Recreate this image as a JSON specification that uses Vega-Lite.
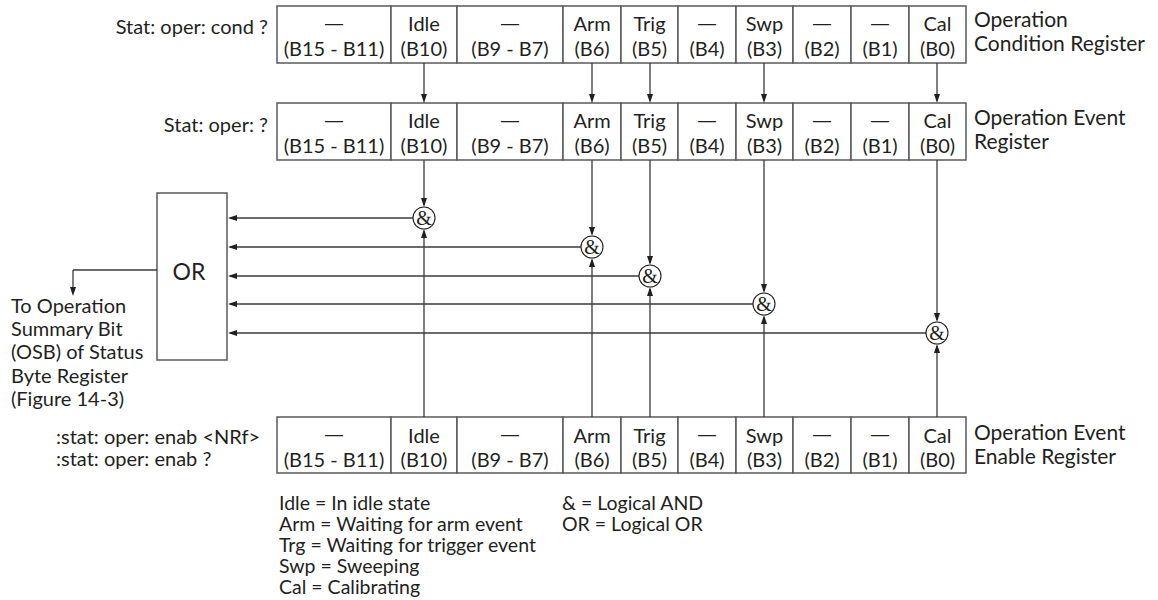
{
  "$schema": "https://vega.github.io/schema/vega-lite/v6.json",
  "width": 1158,
  "height": 600,
  "padding": 0,
  "autosize": {"type": "fit", "contains": "padding"},
  "background": "white",
  "config": {
    "view": {"stroke": null},
    "text": {"font": "Lato", "fontSize": 20, "color": "#231f20", "baseline": "middle"}
  },
  "datasets": {
    "boxes": [
      {"x1": 277, "x2": 391, "y1": 6, "y2": 63},
      {"x1": 391, "x2": 457, "y1": 6, "y2": 63},
      {"x1": 457, "x2": 563, "y1": 6, "y2": 63},
      {"x1": 563, "x2": 621, "y1": 6, "y2": 63},
      {"x1": 621, "x2": 678, "y1": 6, "y2": 63},
      {"x1": 678, "x2": 736, "y1": 6, "y2": 63},
      {"x1": 736, "x2": 793, "y1": 6, "y2": 63},
      {"x1": 793, "x2": 851, "y1": 6, "y2": 63},
      {"x1": 851, "x2": 909, "y1": 6, "y2": 63},
      {"x1": 909, "x2": 966, "y1": 6, "y2": 63},
      {"x1": 277, "x2": 391, "y1": 103, "y2": 160},
      {"x1": 391, "x2": 457, "y1": 103, "y2": 160},
      {"x1": 457, "x2": 563, "y1": 103, "y2": 160},
      {"x1": 563, "x2": 621, "y1": 103, "y2": 160},
      {"x1": 621, "x2": 678, "y1": 103, "y2": 160},
      {"x1": 678, "x2": 736, "y1": 103, "y2": 160},
      {"x1": 736, "x2": 793, "y1": 103, "y2": 160},
      {"x1": 793, "x2": 851, "y1": 103, "y2": 160},
      {"x1": 851, "x2": 909, "y1": 103, "y2": 160},
      {"x1": 909, "x2": 966, "y1": 103, "y2": 160},
      {"x1": 277, "x2": 391, "y1": 417, "y2": 473},
      {"x1": 391, "x2": 457, "y1": 417, "y2": 473},
      {"x1": 457, "x2": 563, "y1": 417, "y2": 473},
      {"x1": 563, "x2": 621, "y1": 417, "y2": 473},
      {"x1": 621, "x2": 678, "y1": 417, "y2": 473},
      {"x1": 678, "x2": 736, "y1": 417, "y2": 473},
      {"x1": 736, "x2": 793, "y1": 417, "y2": 473},
      {"x1": 793, "x2": 851, "y1": 417, "y2": 473},
      {"x1": 851, "x2": 909, "y1": 417, "y2": 473},
      {"x1": 909, "x2": 966, "y1": 417, "y2": 473},
      {"x1": 157, "x2": 227, "y1": 193, "y2": 360}
    ],
    "lines": [
      {"x1": 424, "y1": 63, "x2": 424, "y2": 100},
      {"x1": 592, "y1": 63, "x2": 592, "y2": 100},
      {"x1": 650, "y1": 63, "x2": 650, "y2": 100},
      {"x1": 764, "y1": 63, "x2": 764, "y2": 100},
      {"x1": 937, "y1": 63, "x2": 937, "y2": 100},
      {"x1": 424, "y1": 160, "x2": 424, "y2": 205},
      {"x1": 592, "y1": 160, "x2": 592, "y2": 234},
      {"x1": 650, "y1": 160, "x2": 650, "y2": 263},
      {"x1": 764, "y1": 160, "x2": 764, "y2": 291},
      {"x1": 937, "y1": 160, "x2": 937, "y2": 320},
      {"x1": 424, "y1": 417, "x2": 424, "y2": 231},
      {"x1": 592, "y1": 417, "x2": 592, "y2": 260},
      {"x1": 650, "y1": 417, "x2": 650, "y2": 289},
      {"x1": 764, "y1": 417, "x2": 764, "y2": 317},
      {"x1": 937, "y1": 417, "x2": 937, "y2": 346},
      {"x1": 413, "y1": 218, "x2": 230, "y2": 218},
      {"x1": 581, "y1": 247, "x2": 230, "y2": 247},
      {"x1": 639, "y1": 276, "x2": 230, "y2": 276},
      {"x1": 753, "y1": 304, "x2": 230, "y2": 304},
      {"x1": 926, "y1": 333, "x2": 230, "y2": 333},
      {"x1": 157, "y1": 270, "x2": 73, "y2": 270},
      {"x1": 73, "y1": 270, "x2": 73, "y2": 292}
    ],
    "heads": [
      {"x": 424, "y": 103, "dir": "down"},
      {"x": 592, "y": 103, "dir": "down"},
      {"x": 650, "y": 103, "dir": "down"},
      {"x": 764, "y": 103, "dir": "down"},
      {"x": 937, "y": 103, "dir": "down"},
      {"x": 424, "y": 207, "dir": "down"},
      {"x": 592, "y": 236, "dir": "down"},
      {"x": 650, "y": 265, "dir": "down"},
      {"x": 764, "y": 293, "dir": "down"},
      {"x": 937, "y": 322, "dir": "down"},
      {"x": 424, "y": 229, "dir": "up"},
      {"x": 592, "y": 258, "dir": "up"},
      {"x": 650, "y": 287, "dir": "up"},
      {"x": 764, "y": 315, "dir": "up"},
      {"x": 937, "y": 344, "dir": "up"},
      {"x": 228, "y": 218, "dir": "left"},
      {"x": 228, "y": 247, "dir": "left"},
      {"x": 228, "y": 276, "dir": "left"},
      {"x": 228, "y": 304, "dir": "left"},
      {"x": 228, "y": 333, "dir": "left"},
      {"x": 73, "y": 296, "dir": "down"}
    ],
    "ands": [
      {"x": 424, "y": 218},
      {"x": 592, "y": 247},
      {"x": 650, "y": 276},
      {"x": 764, "y": 304},
      {"x": 937, "y": 333}
    ],
    "dashes": [
      {"x": 334, "y": 24}, {"x": 510, "y": 24}, {"x": 707, "y": 24}, {"x": 822, "y": 24}, {"x": 880, "y": 24},
      {"x": 334, "y": 121}, {"x": 510, "y": 121}, {"x": 707, "y": 121}, {"x": 822, "y": 121}, {"x": 880, "y": 121},
      {"x": 334, "y": 435}, {"x": 510, "y": 435}, {"x": 707, "y": 435}, {"x": 822, "y": 435}, {"x": 880, "y": 435}
    ],
    "ctext": [
      {"x": 334, "y": 50, "t": "(B15 - B11)"},
      {"x": 424, "y": 25, "t": "Idle"}, {"x": 424, "y": 50, "t": "(B10)"},
      {"x": 510, "y": 50, "t": "(B9 - B7)"},
      {"x": 592, "y": 25, "t": "Arm"}, {"x": 592, "y": 50, "t": "(B6)"},
      {"x": 649.5, "y": 25, "t": "Trig"}, {"x": 649.5, "y": 50, "t": "(B5)"},
      {"x": 707, "y": 50, "t": "(B4)"},
      {"x": 764.5, "y": 25, "t": "Swp"}, {"x": 764.5, "y": 50, "t": "(B3)"},
      {"x": 822, "y": 50, "t": "(B2)"},
      {"x": 880, "y": 50, "t": "(B1)"},
      {"x": 937.5, "y": 25, "t": "Cal"}, {"x": 937.5, "y": 50, "t": "(B0)"},
      {"x": 334, "y": 147, "t": "(B15 - B11)"},
      {"x": 424, "y": 122, "t": "Idle"}, {"x": 424, "y": 147, "t": "(B10)"},
      {"x": 510, "y": 147, "t": "(B9 - B7)"},
      {"x": 592, "y": 122, "t": "Arm"}, {"x": 592, "y": 147, "t": "(B6)"},
      {"x": 649.5, "y": 122, "t": "Trig"}, {"x": 649.5, "y": 147, "t": "(B5)"},
      {"x": 707, "y": 147, "t": "(B4)"},
      {"x": 764.5, "y": 122, "t": "Swp"}, {"x": 764.5, "y": 147, "t": "(B3)"},
      {"x": 822, "y": 147, "t": "(B2)"},
      {"x": 880, "y": 147, "t": "(B1)"},
      {"x": 937.5, "y": 122, "t": "Cal"}, {"x": 937.5, "y": 147, "t": "(B0)"},
      {"x": 334, "y": 461, "t": "(B15 - B11)"},
      {"x": 424, "y": 437, "t": "Idle"}, {"x": 424, "y": 461, "t": "(B10)"},
      {"x": 510, "y": 461, "t": "(B9 - B7)"},
      {"x": 592, "y": 437, "t": "Arm"}, {"x": 592, "y": 461, "t": "(B6)"},
      {"x": 649.5, "y": 437, "t": "Trig"}, {"x": 649.5, "y": 461, "t": "(B5)"},
      {"x": 707, "y": 461, "t": "(B4)"},
      {"x": 764.5, "y": 437, "t": "Swp"}, {"x": 764.5, "y": 461, "t": "(B3)"},
      {"x": 822, "y": 461, "t": "(B2)"},
      {"x": 880, "y": 461, "t": "(B1)"},
      {"x": 937.5, "y": 437, "t": "Cal"}, {"x": 937.5, "y": 461, "t": "(B0)"}
    ],
    "ortext": [
      {"x": 189, "y": 273, "t": "OR"}
    ],
    "rlabels": [
      {"x": 974, "y": 21, "t": "Operation"},
      {"x": 974, "y": 45, "t": "Condition Register"},
      {"x": 974, "y": 119, "t": "Operation Event"},
      {"x": 974, "y": 143, "t": "Register"},
      {"x": 974, "y": 434, "t": "Operation Event"},
      {"x": 974, "y": 458, "t": "Enable Register"}
    ],
    "ltext": [
      {"x": 11, "y": 307, "t": "To Operation"},
      {"x": 11, "y": 330, "t": "Summary Bit"},
      {"x": 11, "y": 353, "t": "(OSB) of Status"},
      {"x": 11, "y": 377, "t": "Byte Register"},
      {"x": 11, "y": 400, "t": "(Figure 14-3)"},
      {"x": 56, "y": 438, "t": ":stat: oper: enab <NRf>"},
      {"x": 56, "y": 460, "t": ":stat: oper: enab ?"}
    ],
    "legend": [
      {"x": 279, "y": 504, "t": "Idle = In idle state"},
      {"x": 279, "y": 525, "t": "Arm = Waiting for arm event"},
      {"x": 279, "y": 546, "t": "Trg = Waiting for trigger event"},
      {"x": 279, "y": 567, "t": "Swp = Sweeping"},
      {"x": 279, "y": 588, "t": "Cal = Calibrating"},
      {"x": 562, "y": 504, "t": "& = Logical AND"},
      {"x": 562, "y": 525, "t": "OR = Logical OR"}
    ],
    "rtext": [
      {"x": 268, "y": 28, "t": "Stat: oper: cond ?"},
      {"x": 268, "y": 126, "t": "Stat: oper: ?"}
    ]
  },
  "layer": [
    {
      "data": {"name": "boxes"},
      "mark": {"type": "rect", "fill": "white", "stroke": "#58595b", "strokeWidth": 1.5},
      "encoding": {
        "x": {"field": "x1", "type": "quantitative", "scale": {"domain": [0, 1158], "nice": false, "zero": false}, "axis": null},
        "x2": {"field": "x2"},
        "y": {"field": "y1", "type": "quantitative", "scale": {"domain": [0, 600], "nice": false, "zero": false, "reverse": true}, "axis": null},
        "y2": {"field": "y2"}
      }
    },
    {
      "data": {"name": "lines"},
      "mark": {"type": "rule", "stroke": "#3a3a3a", "strokeWidth": 1.3},
      "encoding": {
        "x": {"field": "x1", "type": "quantitative", "scale": {"domain": [0, 1158], "nice": false, "zero": false}, "axis": null},
        "x2": {"field": "x2"},
        "y": {"field": "y1", "type": "quantitative", "scale": {"domain": [0, 600], "nice": false, "zero": false, "reverse": true}, "axis": null},
        "y2": {"field": "y2"}
      }
    },
    {
      "data": {"name": "heads"},
      "mark": {"type": "point", "filled": true, "size": 100, "opacity": 1, "color": "#231f20"},
      "encoding": {
        "x": {"field": "x", "type": "quantitative", "scale": {"domain": [0, 1158], "nice": false, "zero": false}, "axis": null},
        "y": {"field": "y", "type": "quantitative", "scale": {"domain": [0, 600], "nice": false, "zero": false, "reverse": true}, "axis": null},
        "shape": {"field": "dir", "type": "nominal", "legend": null,
          "scale": {"domain": ["down", "up", "left"], "range": ["M-0.6,-1.8L0.6,-1.8L0,0Z", "M-0.6,1.8L0.6,1.8L0,0Z", "M1.8,-0.6L1.8,0.6L0,0Z"]}}
      }
    },
    {
      "data": {"name": "ands"},
      "mark": {"type": "point", "shape": "circle", "size": 484, "fill": "white", "stroke": "#231f20", "strokeWidth": 1.1, "opacity": 1, "fillOpacity": 1},
      "encoding": {
        "x": {"field": "x", "type": "quantitative", "scale": {"domain": [0, 1158], "nice": false, "zero": false}, "axis": null},
        "y": {"field": "y", "type": "quantitative", "scale": {"domain": [0, 600], "nice": false, "zero": false, "reverse": true}, "axis": null}
      }
    },
    {
      "data": {"name": "ands"},
      "mark": {"type": "text", "text": "&", "font": "Liberation Serif", "fontSize": 20, "align": "center", "dy": 1},
      "encoding": {
        "x": {"field": "x", "type": "quantitative", "scale": {"domain": [0, 1158], "nice": false, "zero": false}, "axis": null},
        "y": {"field": "y", "type": "quantitative", "scale": {"domain": [0, 600], "nice": false, "zero": false, "reverse": true}, "axis": null}
      }
    },
    {
      "data": {"name": "dashes"},
      "mark": {"type": "text", "text": "—", "font": "DejaVu Sans", "fontSize": 20, "align": "center"},
      "encoding": {
        "x": {"field": "x", "type": "quantitative", "scale": {"domain": [0, 1158], "nice": false, "zero": false}, "axis": null},
        "y": {"field": "y", "type": "quantitative", "scale": {"domain": [0, 600], "nice": false, "zero": false, "reverse": true}, "axis": null}
      }
    },
    {
      "data": {"name": "ctext"},
      "mark": {"type": "text", "align": "center"},
      "encoding": {
        "x": {"field": "x", "type": "quantitative", "scale": {"domain": [0, 1158], "nice": false, "zero": false}, "axis": null},
        "y": {"field": "y", "type": "quantitative", "scale": {"domain": [0, 600], "nice": false, "zero": false, "reverse": true}, "axis": null},
        "text": {"field": "t"}
      }
    },
    {
      "data": {"name": "ortext"},
      "mark": {"type": "text", "align": "center", "fontSize": 23},
      "encoding": {
        "x": {"field": "x", "type": "quantitative", "scale": {"domain": [0, 1158], "nice": false, "zero": false}, "axis": null},
        "y": {"field": "y", "type": "quantitative", "scale": {"domain": [0, 600], "nice": false, "zero": false, "reverse": true}, "axis": null},
        "text": {"field": "t"}
      }
    },
    {
      "data": {"name": "rlabels"},
      "mark": {"type": "text", "align": "left", "fontSize": 21},
      "encoding": {
        "x": {"field": "x", "type": "quantitative", "scale": {"domain": [0, 1158], "nice": false, "zero": false}, "axis": null},
        "y": {"field": "y", "type": "quantitative", "scale": {"domain": [0, 600], "nice": false, "zero": false, "reverse": true}, "axis": null},
        "text": {"field": "t"}
      }
    },
    {
      "data": {"name": "ltext"},
      "mark": {"type": "text", "align": "left"},
      "encoding": {
        "x": {"field": "x", "type": "quantitative", "scale": {"domain": [0, 1158], "nice": false, "zero": false}, "axis": null},
        "y": {"field": "y", "type": "quantitative", "scale": {"domain": [0, 600], "nice": false, "zero": false, "reverse": true}, "axis": null},
        "text": {"field": "t"}
      }
    },
    {
      "data": {"name": "legend"},
      "mark": {"type": "text", "align": "left", "fontSize": 19.5},
      "encoding": {
        "x": {"field": "x", "type": "quantitative", "scale": {"domain": [0, 1158], "nice": false, "zero": false}, "axis": null},
        "y": {"field": "y", "type": "quantitative", "scale": {"domain": [0, 600], "nice": false, "zero": false, "reverse": true}, "axis": null},
        "text": {"field": "t"}
      }
    },
    {
      "data": {"name": "rtext"},
      "mark": {"type": "text", "align": "right"},
      "encoding": {
        "x": {"field": "x", "type": "quantitative", "scale": {"domain": [0, 1158], "nice": false, "zero": false}, "axis": null},
        "y": {"field": "y", "type": "quantitative", "scale": {"domain": [0, 600], "nice": false, "zero": false, "reverse": true}, "axis": null},
        "text": {"field": "t"}
      }
    }
  ]
}
